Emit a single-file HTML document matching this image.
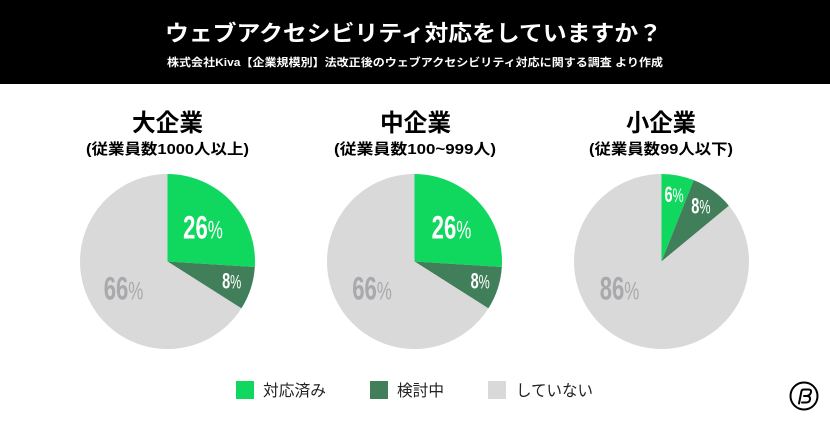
<!DOCTYPE html>
<html lang="ja">
<head>
<meta charset="utf-8">
<title>ウェブアクセシビリティ対応をしていますか？</title>
<style>
html,body{margin:0;padding:0;background:#fff;}
svg{display:block;}
.jp{font-family:"Liberation Sans","Noto Sans CJK JP",sans-serif;}
</style>
</head>
<body>
<svg id="chart" xmlns="http://www.w3.org/2000/svg" width="830" height="422" viewBox="0 0 830 422">
  <rect x="0" y="0" width="830" height="422" fill="#ffffff"/>
  <rect x="0" y="0" width="830" height="84" fill="#000000"/>
  <text class="jp" x="165" y="41" font-size="22" font-weight="700" fill="#fff" textLength="497" lengthAdjust="spacingAndGlyphs">ウェブアクセシビリティ対応をしていますか？</text>
  <text class="jp" x="167" y="66" font-size="11" font-weight="700" fill="#fff" textLength="496" lengthAdjust="spacingAndGlyphs">株式会社Kiva【企業規模別】法改正後のウェブアクセシビリティ対応に関する調査 より作成</text>

  <text class="jp" x="132" y="131" font-size="24" font-weight="700" fill="#000" textLength="71" lengthAdjust="spacingAndGlyphs">大企業</text>
  <text class="jp" x="86" y="154" font-size="15" font-weight="700" fill="#000" textLength="163" lengthAdjust="spacingAndGlyphs">(従業員数1000人以上)</text>
  <text class="jp" x="380" y="131" font-size="24" font-weight="700" fill="#000" textLength="71" lengthAdjust="spacingAndGlyphs">中企業</text>
  <text class="jp" x="334" y="154" font-size="15" font-weight="700" fill="#000" textLength="162" lengthAdjust="spacingAndGlyphs">(従業員数100~999人)</text>
  <text class="jp" x="626" y="131" font-size="24" font-weight="700" fill="#000" textLength="70" lengthAdjust="spacingAndGlyphs">小企業</text>
  <text class="jp" x="589" y="154" font-size="15" font-weight="700" fill="#000" textLength="144" lengthAdjust="spacingAndGlyphs">(従業員数99人以下)</text>

  <g id="pies"></g>

  <g>
    <rect x="236" y="381" width="18" height="18" fill="#10d85f"/>
    <text class="jp" x="263" y="396" font-size="16" fill="#222" textLength="63" lengthAdjust="spacingAndGlyphs">対応済み</text>
    <rect x="370" y="381" width="18" height="18" fill="#417f5b"/>
    <text class="jp" x="397" y="396" font-size="16" fill="#222" textLength="47" lengthAdjust="spacingAndGlyphs">検討中</text>
    <rect x="488" y="381" width="18" height="18" fill="#d9d9d9"/>
    <text class="jp" x="516" y="396" font-size="16" fill="#222" textLength="77" lengthAdjust="spacingAndGlyphs">していない</text>
  </g>

  <g fill="none" stroke="#000" stroke-width="2" stroke-linecap="round" stroke-linejoin="round">
    <circle cx="804" cy="396" r="13.5"/>
    <path d="M799 403.5 L801.5 391 Q802 389.5 804 389.5 L808.5 389.5 Q811.5 389.5 811 392 Q810.5 395.5 806.5 396 L804 396 L807.5 396 Q810.5 396.5 810 399.5 Q809.5 402.5 806 402.5 L802 402.5"/>
  </g>
</svg>
<script>
var seriesNames = ["対応済み", "検討中", "していない"];
var largeValues = [26, 8, 66];
var mediumValues = [26, 8, 66];
var smallValues = [6, 8, 86];
var pieNames = ["large", "medium", "small"];

var SVG_NS = "http://www.w3.org/2000/svg";
var colors = ["#10d85f", "#417f5b", "#d9d9d9"];
var labelColors = ["#ffffff", "#ffffff", "#a8a9ad"];
var centersX = [167.5, 414.5, 661.5];
var centerY = 261.5;
var radius = 87.5;
var root = document.getElementById("pies");

function angleScale(v, total) { return v / total * 2 * Math.PI; }
function px(cx, r, a) { return cx + r * Math.sin(a); }
function py(cy, r, a) { return cy - r * Math.cos(a); }

function drawPie(values, cx, name, nudge, restNudge) {
  var total = values.reduce(function (s, v) { return s + v; }, 0);
  var start = 0;
  values.forEach(function (v, i) {
    var sweep = angleScale(v, total);
    var end = start + sweep;
    var large = sweep > Math.PI ? 1 : 0;
    var path = document.createElementNS(SVG_NS, "path");
    path.setAttribute("d", "M" + cx + " " + centerY +
      " L" + px(cx, radius, start) + " " + py(centerY, radius, start) +
      " A" + radius + " " + radius + " 0 " + large + " 1 " + px(cx, radius, end) + " " + py(centerY, radius, end) + " Z");
    path.setAttribute("fill", colors[i]);
    
    
    root.appendChild(path);
    start = end;
  });
  // Labels are drawn after all slices so they stay on top.
  start = 0;
  values.forEach(function (v, i) {
    var sweep = angleScale(v, total);
    var mid = start + sweep / 2;
    var big = v >= 20;
    var isRest = i === values.length - 1;
    var a = isRest ? 238 * Math.PI / 180 : mid;
    var r = isRest ? 53 : (big ? 48 : 67);
    var size = big ? 32 : 22;
    var pctSize = big ? 24.6 : 19;
    var sx = big ? 0.69 : 0.66;
    var x = px(cx, r, a) + (isRest ? restNudge : nudge);
    var y = py(centerY, r, a);
    var text = document.createElementNS(SVG_NS, "text");
    text.setAttribute("transform", "translate(" + x + " " + (y + size * 0.35 - 1.5) + ") scale(" + sx + " 1)");
    text.setAttribute("text-anchor", "middle");
    text.setAttribute("fill", labelColors[i]);
    text.setAttribute("font-family", '"Liberation Sans", sans-serif');
    
    
    var num = document.createElementNS(SVG_NS, "tspan");
    num.setAttribute("font-size", size);
    num.setAttribute("font-weight", "700");
    num.textContent = v;
    var pct = document.createElementNS(SVG_NS, "tspan");
    pct.setAttribute("font-size", pctSize);
    pct.textContent = "%";
    text.appendChild(num);
    text.appendChild(pct);
    root.appendChild(text);
    start += sweep;
  });
}

drawPie(largeValues, centersX[0], pieNames[0], 0.5, 1);
drawPie(mediumValues, centersX[1], pieNames[1], 2, 2.5);
drawPie(smallValues, centersX[2], pieNames[2], 0, 3);
</script>
</body>
</html>
